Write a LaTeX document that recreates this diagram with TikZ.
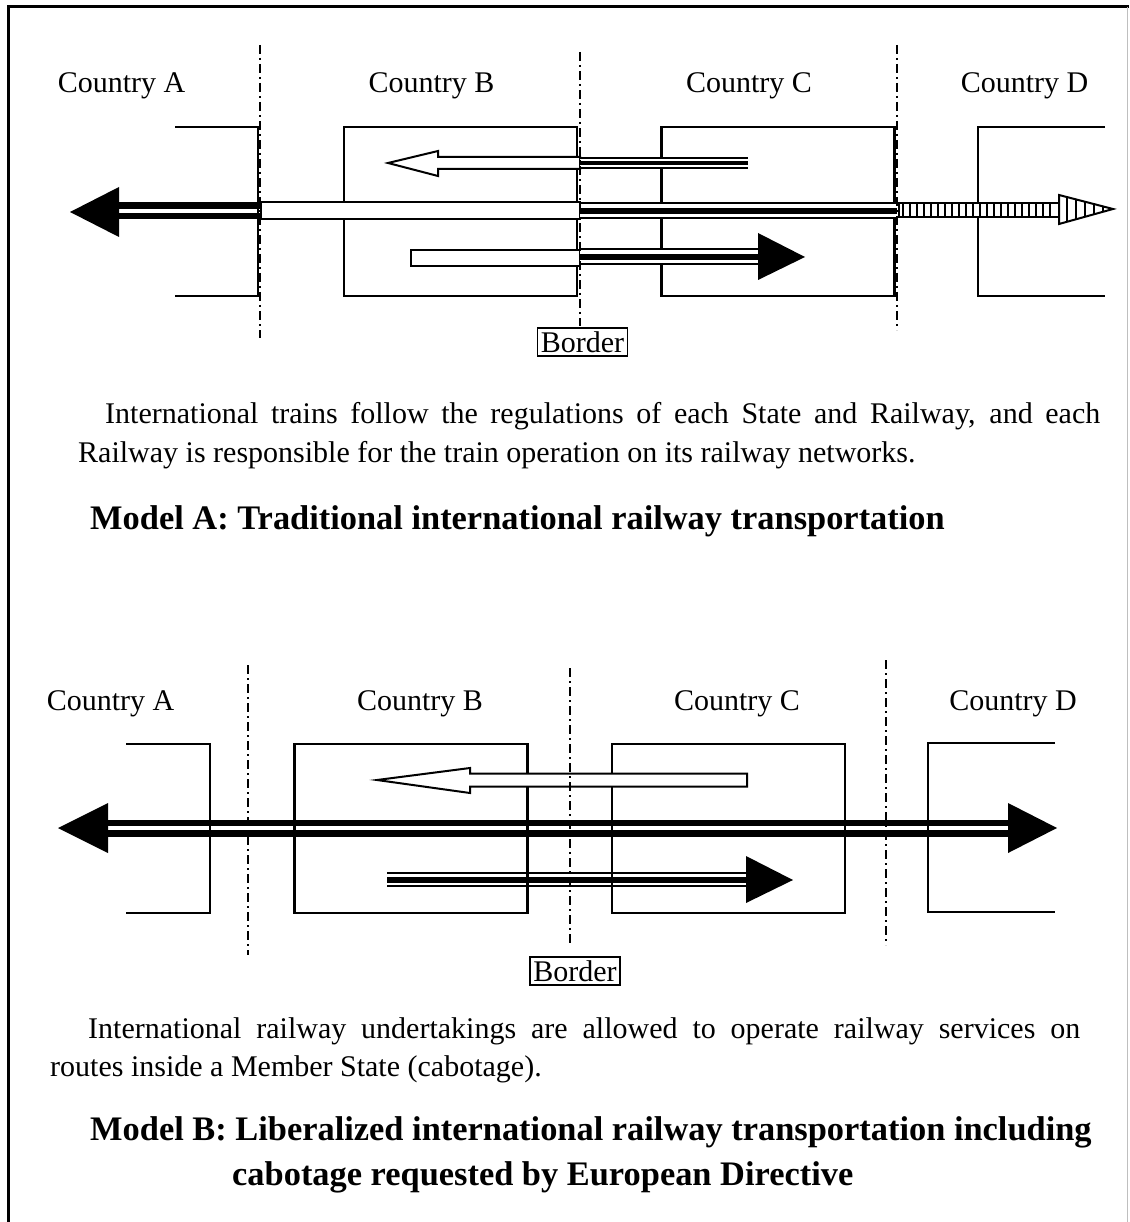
\documentclass[tikz,border=0pt]{standalone}
\usepackage{fontspec}
\setmainfont{Liberation Serif}
\usepackage{tikz}
\usetikzlibrary{positioning}
\tikzstyle{country} = [draw, line width=2.5pt, rectangle,
    minimum width=233pt, minimum height=169pt, inner sep=0pt]
\tikzstyle{wall} = [line width=2.5pt]
\tikzstyle{frontier} = [line width=2.5pt, dash pattern=on 9pt off 4pt on 2pt off 4pt]
\tikzstyle{cname} = [anchor=base, inner sep=0pt]
\tikzstyle{txtline} = [anchor=base west, inner sep=0pt]
\tikzstyle{heading} = [anchor=base west, inner sep=0pt, font=\fontsize{34.4}{40}\selectfont\bfseries]
\tikzstyle{borderbox} = [draw, line width=1.5pt, inner sep=3.5pt]
\tikzstyle{openbar} = [draw, line width=2pt, fill=white]
\tikzstyle{twin} = [line width=17pt, postaction={draw=white, line width=4.5pt}]
\tikzset{rail/.style={line width=#1, postaction={draw=white, line width=#1-4pt},
    postaction={draw=black, line width=0.4*#1}}}

\begin{document}
\begin{tikzpicture}[x=1pt, y=-1pt, font=\fontsize{30}{36}\selectfont]
    \useasboundingbox (0,0) rectangle (1129,1222);
    \draw[line width=3pt] (8,1222) -- (8,7) -- (1129,7);
    \draw[line width=1pt, black!25] (1127,7) -- (1127,1222);

    % Model A
    \node [cname] (aA) at (121.5,93) {Country A};
    \node [cname] (aB) at (431.5,93) {Country B};
    \node [cname] (aC) at (749,93) {Country C};
    \node [cname] (aD) at (1024.5,93) {Country D};

    \draw [twin] (119,211) -- (260,211);
    \fill (70,212) -- (119,187) -- (119,237) -- cycle;

    \draw [wall] (175,127) -- (258,127) -- (258,296) -- (175,296);
    \node [country] (boxAB) at (460.5,211.5) {};
    \node [country, right=82pt of boxAB] (boxAC) {};
    \draw [wall] (1105,127) -- (978,127) -- (978,296) -- (1105,296);

    \draw [openbar] (261,202.5) rectangle (580,219.5);
    \draw [rail=17pt] (580,211) -- (897,211);
    \draw [line width=2pt, fill=white] (899,203) rectangle (1059,217);
    \foreach \i in {903,910,...,1055}
        \draw [line width=2.5pt] (\i,203) -- (\i,217);
    \draw [line width=2pt, fill=white] (1059,195) -- (1113,209) -- (1059,224) -- cycle;
    \begin{scope}
        \clip (1059,195) -- (1113,209) -- (1059,224) -- cycle;
        \foreach \i in {1067,1076,...,1104}
            \draw [line width=2.5pt] (\i,190) -- (\i,230);
    \end{scope}

    \draw [openbar] (388,163) -- (438,151) -- (438,157) -- (580,157) -- (580,169)
        -- (438,169) -- (438,176) -- cycle;
    \draw [rail=12pt] (580,163) -- (748,163);

    \draw [openbar] (411,250) rectangle (580,266);
    \draw [rail=17pt] (580,257) -- (758,257);
    \fill (758,233) -- (805,257) -- (758,280) -- cycle;

    \draw [frontier] (260,45) -- (260,338);
    \draw [frontier] (580,52) -- (580,326);
    \draw [frontier] (897,45) -- (897,330);
    \node [borderbox] (bdA) at (582.5,342) {Border};

    \node [txtline] (tA1) at (105,423) {\makebox[995pt][s]{International trains follow the regulations of each State and Railway, and each}};
    \node [txtline] (tA2) at (78,462) {Railway is responsible for the train operation on its railway networks.};
    \node [heading] (hA) at (90,529) {Model A: Traditional international railway transportation};

    % Model B
    \node [cname] (bA) at (110.5,710) {Country A};
    \node [cname] (bB) at (420,710) {Country B};
    \node [cname] (bC) at (737,710) {Country C};
    \node [cname] (bD) at (1013,710) {Country D};

    \draw [twin] (108,828) -- (1008,828);
    \fill (58,828) -- (108,803) -- (108,853) -- cycle;
    \fill (1008,803) -- (1057,828) -- (1008,853) -- cycle;
    \draw [rail=15pt] (387,879.5) -- (746,879.5);
    \fill (746,856) -- (793,880) -- (746,903) -- cycle;

    \draw [wall] (126,744) -- (210,744) -- (210,913) -- (126,913);
    \node [country] (boxBB) at (411,828.5) {};
    \node [country, right=82pt of boxBB] (boxBC) {};
    \draw [wall] (1055,743) -- (928,743) -- (928,912) -- (1055,912);

    \draw [openbar] (377,780) -- (470,768) -- (470,773.5) -- (747,773.5) -- (747,786.5)
        -- (470,786.5) -- (470,793) -- cycle;

    \draw [frontier] (248,665) -- (248,955);
    \draw [frontier] (570,668) -- (570,945);
    \draw [frontier] (886,660) -- (886,945);
    \node [borderbox] (bdB) at (575,971) {Border};

    \node [txtline] (tB1) at (88,1038) {\makebox[992pt][s]{International railway undertakings are allowed to operate railway services on}};
    \node [txtline] (tB2) at (50,1076) {routes inside a Member State (cabotage).};
    \node [heading] (hB1) at (90,1140) {Model B: Liberalized international railway transportation including};
    \node [heading] (hB2) at (232,1185) {cabotage requested by European Directive};
\end{tikzpicture}
\end{document}
